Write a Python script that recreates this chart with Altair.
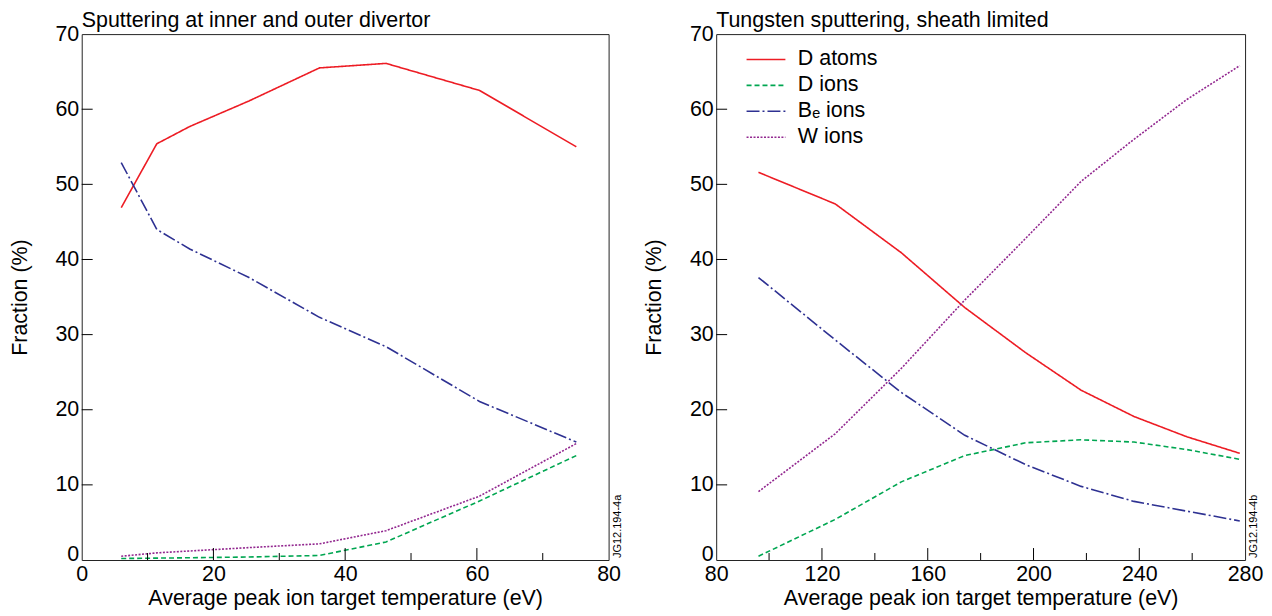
import altair as alt
import pandas as pd

FONT = "Liberation Sans"
FS = 21.5

series_names = ["D atoms", "D ions", "Bₑ ions", "W ions"]
series_colors = ["#ed1c24", "#00a651", "#2e3192", "#92278f"]
series_dashes = [[1, 0], [5, 3], [13, 3, 2, 3], [2, 1.5]]
series_widths = [1.6, 1.6, 1.6, 2.1]

# Left panel: Sputtering at inner and outer divertor
left_x = [6, 11.4, 16.4, 25.4, 36.1, 46.2, 60.4, 75.1]
left_d_atoms = [46.9, 55.4, 57.7, 61.1, 65.5, 66.1, 62.5, 55.0]
left_d_ions = [0.2, 0.25, 0.3, 0.4, 0.6, 2.4, 7.85, 13.9]
left_be_ions = [52.9, 44.0, 41.4, 37.6, 32.3, 28.4, 21.1, 15.7]
left_w_ions = [0.5, 0.95, 1.2, 1.65, 2.15, 3.9, 8.5, 15.5]

# Right panel: Tungsten sputtering, sheath limited
right_x = [96, 125, 150, 174, 197, 218, 238, 258, 278]
right_d_atoms = [51.6, 47.4, 40.9, 33.6, 27.6, 22.6, 19.1, 16.4, 14.2]
right_d_ions = [0.5, 5.4, 10.4, 13.9, 15.6, 16.0, 15.7, 14.7, 13.4]
right_be_ions = [37.6, 29.3, 22.3, 16.6, 12.7, 9.8, 7.8, 6.5, 5.2]
right_w_ions = [9.1, 16.8, 25.5, 34.6, 42.8, 50.4, 56.0, 61.3, 65.8]

y_labels = [0, 10, 20, 30, 40, 50, 60, 70]
y_ticks = [10, 20, 30, 40, 50, 60]
left_x_labels = [0, 20, 40, 60, 80]
left_x_major = [20, 40, 60]
left_x_minor = [10, 30, 50, 70]
right_x_labels = [80, 120, 160, 200, 240, 280]
right_x_major = [120, 160, 200, 240]
right_x_minor = [100, 140, 180, 220, 260]

H = 528


def make_df(xs, lists):
    rows = []
    for name, vals in zip(series_names, lists):
        for xv, yv in zip(xs, vals):
            rows.append({"T": xv, "F": yv, "series": name})
    return pd.DataFrame(rows)


def panel(xs, lists, xdom, xlabels, xmajor, xminor, title, jg, show_legend, W):
    df = make_df(xs, lists)
    xscale = alt.Scale(domain=xdom, nice=False, zero=False)
    yscale = alt.Scale(domain=[0, 70], nice=False, zero=False)
    xaxis = alt.Axis(
        values=xlabels, title="Average peak ion target temperature (eV)",
        ticks=False, tickSize=0, domain=False, grid=False,
        labelPadding=4, titlePadding=2, labelFlush=False)
    yaxis = alt.Axis(
        values=y_labels, title="Fraction (%)",
        ticks=False, tickSize=0, domain=False, grid=False,
        labelPadding=3, titlePadding=24, labelFlush=False,
        labelBaseline={"condition": {"test": "datum.value === 0", "value": "alphabetic"},
                       "value": "middle"})
    X = lambda: alt.X("T:Q", scale=xscale, axis=xaxis)
    Y = lambda: alt.Y("F:Q", scale=yscale, axis=yaxis)
    if show_legend:
        leg = alt.Legend(
            title=None, orient="none", legendX=39, legendY=14.5, padding=0,
            symbolType="M-2,0H2", symbolSize=380, symbolStrokeWidth=1.6,
            labelFont=FONT, labelFontSize=FS, labelColor="black",
            labelOffset=21, rowPadding=4,
        )
    else:
        leg = None
    lines = alt.Chart(df).mark_line(clip=True).encode(
        x=X(), y=Y(),
        color=alt.Color("series:N", scale=alt.Scale(domain=series_names, range=series_colors), legend=leg),
        strokeDash=alt.StrokeDash("series:N", scale=alt.Scale(domain=series_names, range=series_dashes), legend=leg),
        strokeWidth=alt.StrokeWidth("series:N", scale=alt.Scale(domain=series_names, range=series_widths), legend=None),
    )
    ytk = alt.Chart(pd.DataFrame({"F": y_ticks})).mark_rule(color="black", strokeWidth=1).encode(
        y=Y(), x=alt.value(0), x2=alt.value(11))
    xmaj = alt.Chart(pd.DataFrame({"T": xmajor})).mark_rule(color="black", strokeWidth=1).encode(
        x=X(), y=alt.value(H), y2=alt.value(H - 12))
    xmin = alt.Chart(pd.DataFrame({"T": xminor})).mark_rule(color="black", strokeWidth=1).encode(
        x=X(), y=alt.value(H), y2=alt.value(H - 7))
    jgt = alt.Chart(pd.DataFrame({"t": [jg]})).mark_text(
        angle=270, align="left", baseline="top", fontSize=11, font=FONT, color="black"
    ).encode(text="t:N", x=alt.value(W + 3), y=alt.value(H - 2))
    return alt.layer(lines, ytk, xmaj, xmin, jgt).properties(
        width=W, height=H,
        title=alt.TitleParams(title, anchor="start", frame="group", fontSize=FS, font=FONT,
                              fontWeight="normal", color="black", offset=-8),
    )


left = panel(left_x, [left_d_atoms, left_d_ions, left_be_ions, left_w_ions],
             [0, 80], left_x_labels, left_x_major, left_x_minor,
             "Sputtering at inner and outer divertor", "JG12.194-4a", False, 529)
right = panel(right_x, [right_d_atoms, right_d_ions, right_be_ions, right_w_ions],
              [80, 280], right_x_labels, right_x_major, right_x_minor,
              "Tungsten sputtering, sheath limited", "JG12.194-4b", True, 531)

chart = alt.hconcat(left, right, spacing=108, bounds="flush").resolve_scale(
    color="independent", strokeDash="independent", strokeWidth="independent"
).properties(
    padding={"left": 0, "top": 0, "right": 0, "bottom": 0}
).configure_view(
    stroke="#222222", strokeWidth=1
).configure_axis(
    labelFont=FONT, labelFontSize=FS, labelColor="black",
    titleFont=FONT, titleFontSize=FS, titleColor="black", titleFontWeight="normal",
)

chart.save("out.html", embed_options={"renderer": "svg", "actions": False})
